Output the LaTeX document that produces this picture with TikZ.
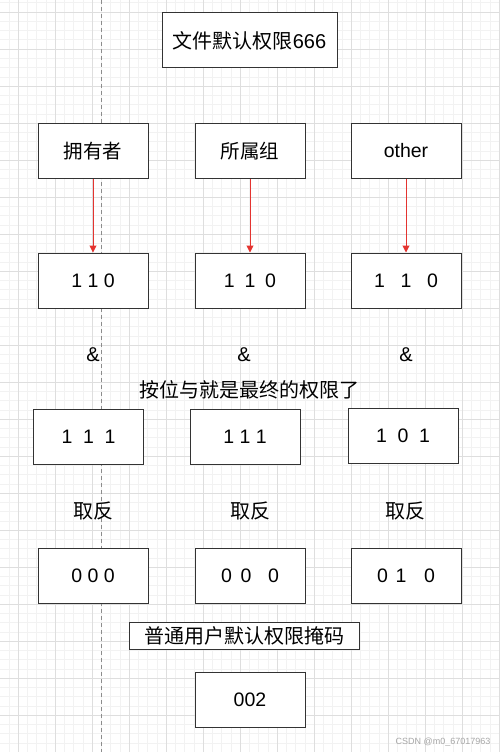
\documentclass[tikz,border=0pt]{standalone}
\usepackage{fontspec}
\setmainfont{Liberation Sans}
\newfontfamily\cjk{Noto Sans CJK SC}
\usetikzlibrary{arrows.meta}
\definecolor{arrowred}{RGB}{228,52,48}

\begin{document}
\begin{tikzpicture}[x=1pt,y=-1pt,
	box/.style={draw=black!80, line width=1pt, fill=white, minimum width=110pt, minimum height=55pt, inner sep=0pt, font=\fontsize{19.5}{20}\selectfont},
	lbl/.style={inner sep=0pt, font=\fontsize{20}{20}\selectfont},
	redarrow/.style={draw=arrowred, fill=arrowred, line width=1pt, -{Triangle[length=7pt,width=7pt]}}]
	\useasboundingbox (0,0) rectangle (500,752);
	\fill[white] (0,0) rectangle (500,752);
	% grid
	\foreach \i in {0,...,54} \draw[black!5, line width=0.5pt] ({-0.5+9.25*\i},0) -- ++(0,752);
	\foreach \i in {0,...,81} \draw[black!5, line width=0.5pt] (0,{2.75+9.25*\i}) -- ++(500,0);
	\foreach \i in {0,...,13} \draw[black!13, line width=0.6pt] ({18+37*\i},0) -- ++(0,752);
	\foreach \i in {0,...,20} \draw[black!13, line width=0.6pt] (0,{12+37*\i}) -- ++(500,0);
	\draw[black!45, line width=0.7pt, dash pattern=on 4pt off 3pt] (101,0) -- (101,752);
	% boxes
	\node[box, minimum width=175pt, font=\fontsize{20}{20}\selectfont] (title) at (249.5,40.5) {{\cjk 文件默认权限}666};
	\node[box] (owner) at (93,151) {\cjk 拥有者};
	\node[box] (group) at (250,151) {\cjk 所属组};
	\node[box] (other) at (406,151) {other};
	\node[box] (perm1) at (93,280.5) {1 1 0};
	\node[box] (perm2) at (250,280.5) {1\hspace{0.5em}1\hspace{0.5em}0};
	\node[box] (perm3) at (406,280.5) {1\hspace{0.8em}1\hspace{0.8em}0};
	\draw[redarrow] (owner) -- (perm1);
	\draw[redarrow] (group) -- (perm2);
	\draw[redarrow] (other) -- (perm3);
	\node[lbl] (and1) at (93,355) {\&};
	\node[lbl] (and2) at (244,355) {\&};
	\node[lbl] (and3) at (406,355) {\&};
	\node[lbl] (note) at (249,390) {\cjk 按位与就是最终的权限了};
	\node[box] (keep1) at (88.5,437) {1\hspace{0.55em}1\hspace{0.55em}1};
	\node[box] (keep2) at (245,437) {1 1 1};
	\node[box] (keep3) at (403,436) {1\hspace{0.55em}0\hspace{0.55em}1};
	\node[lbl] (inv1) at (93,511) {\cjk 取反};
	\node[lbl] (inv2) at (250,511) {\cjk 取反};
	\node[lbl] (inv3) at (405,511) {\cjk 取反};
	\node[box] (mask1) at (93,575.5) {0 0 0};
	\node[box] (mask2) at (250,575.5) {0\hspace{0.45em}0\hspace{0.85em}0};
	\node[box] (mask3) at (406,575.5) {0\hspace{0.4em}1\hspace{0.9em}0};
	\node[box, minimum width=230pt, minimum height=27pt, font=\fontsize{20}{20}\selectfont] (masklbl) at (244,635.5) {\cjk 普通用户默认权限掩码};
	\node[box] (umask) at (250,699.5) {002};
	\node[inner sep=0pt, text=black!35, font=\fontsize{9}{9}\selectfont] (mark) at (443,742) {CSDN @m0\_67017963};
\end{tikzpicture}
\end{document}
